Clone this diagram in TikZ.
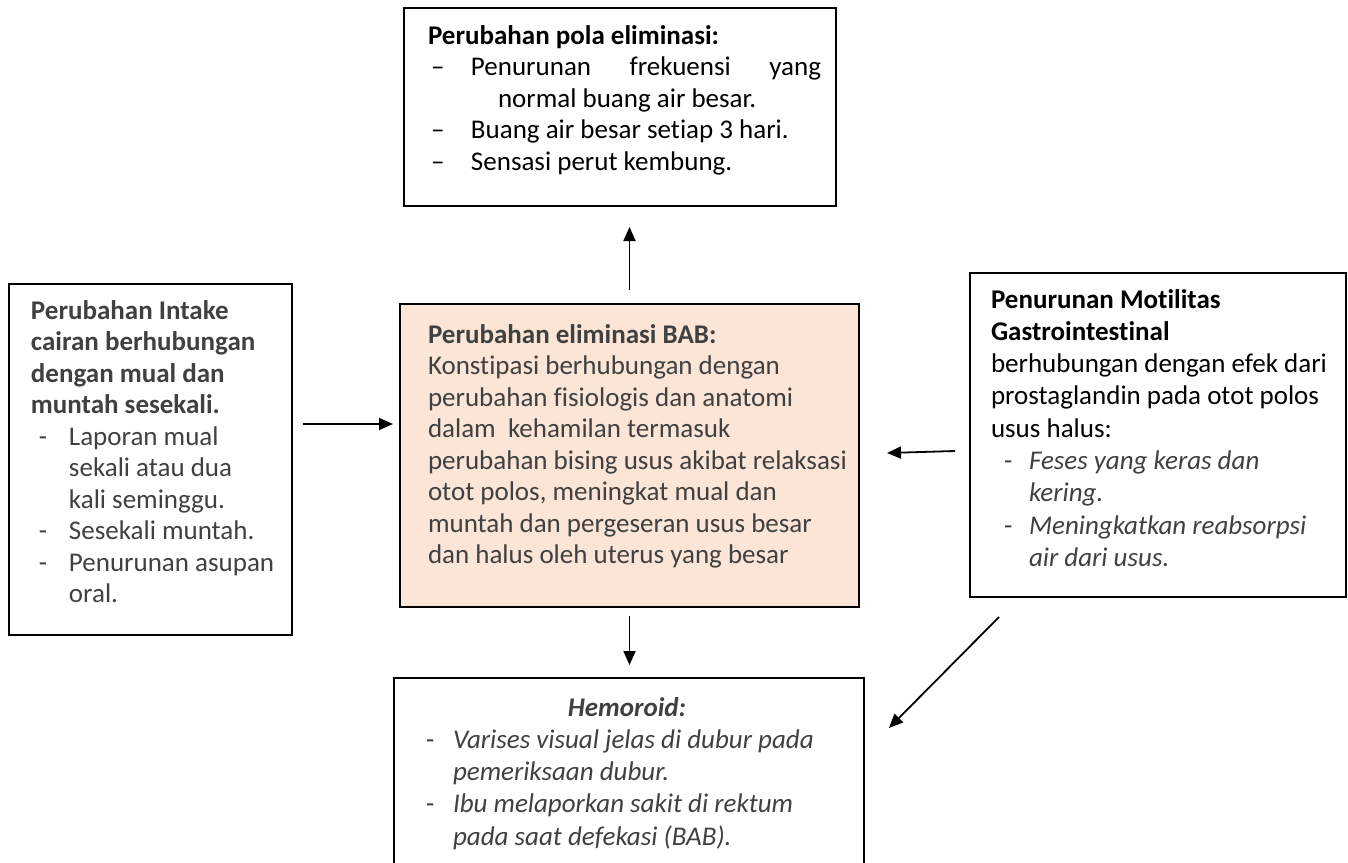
\documentclass[tikz,border=0pt]{standalone}
\usepackage{fontspec}
\setmainfont{Carlito}[Ligatures=CommonOff]
\usetikzlibrary{arrows.meta}
\definecolor{txtgray}{HTML}{404040}
\definecolor{peach}{HTML}{FBE5D6}
\newcommand{\boxbody}[5]{\parbox[t][#2][t]{#1}{\raggedright\leftskip=#4\relax\vspace*{#3}\strut#5}}
\newcommand{\lstitem}[3]{\hspace*{#1}\makebox[#2][l]{#3}}

\begin{document}
\begin{tikzpicture}[x=0.5pt, y=-0.5pt,
        box/.style={draw, line width=1pt, anchor=north west, inner sep=0pt},
        txt/.style={font=\fontsize{13.5pt}{15.75pt}\selectfont},
        loose/.style={font=\fontsize{13.5pt}{16.15pt}\selectfont},
        arr/.style={-{Triangle[length=7pt,width=6pt]}, line width=0.9pt},
    ]
    \useasboundingbox (0,0) rectangle (1348,862);
    \clip (0,0) rectangle (1348,862);
    \node[box, txt] (pola) at (403,7) {\boxbody{216pt}{99pt}{7pt}{12pt}{%
        \textbf{Perubahan pola eliminasi:}\\
        \lstitem{1.5pt}{20pt}{--}\makebox[175pt][s]{Penurunan frekuensi yang}\\
        \hspace*{35pt}normal buang air besar.\\
        \lstitem{1.5pt}{20pt}{--}Buang air besar setiap 3 hari.\\
        \lstitem{1.5pt}{20pt}{--}Sensasi perut kembung.}};
    \node[box, txt, text=txtgray] (intake) at (8,283) {\boxbody{141.5pt}{175.5pt}{6.5pt}{11pt}{%
        \textbf{Perubahan Intake}\\
        \textbf{cairan berhubungan}\\
        \textbf{dengan mual dan}\\
        \textbf{muntah sesekali.}\\
        \lstitem{4pt}{15pt}{-}Laporan mual\\
        \hspace*{19pt}sekali atau dua\\
        \hspace*{19pt}kali seminggu.\\
        \lstitem{4pt}{15pt}{-}Sesekali muntah.\\
        \lstitem{4pt}{15pt}{-}Penurunan asupan\\
        \hspace*{19pt}oral.}};
    \node[box, txt, text=txtgray, fill=peach] (elim) at (399,303) {\boxbody{229.5pt}{151.5pt}{8.5pt}{14pt}{%
        \textbf{Perubahan eliminasi BAB:}\\
        Konstipasi berhubungan dengan\\
        perubahan fisiologis dan anatomi\\
        dalam\ \ kehamilan termasuk\\
        perubahan bising usus akibat relaksasi\\
        otot polos, meningkat mual dan\\
        muntah dan pergeseran usus besar\\
        dan halus oleh uterus yang besar}};
    \node[box, loose] (motil) at (969,272) {\boxbody{188pt}{162pt}{6.2pt}{10.5pt}{%
        \textbf{Penurunan Motilitas}\\
        \textbf{Gastrointestinal}\\
        berhubungan dengan efek dari\\
        prostaglandin pada otot polos\\
        usus halus:\\
        {\color{txtgray}\lstitem{6.5pt}{12.5pt}{-}\textit{Feses yang keras dan}}\\
        {\color{txtgray}\hspace*{19pt}\textit{kering.}}\\
        {\color{txtgray}\lstitem{6.5pt}{12.5pt}{-}\textit{Meningkatkan reabsorpsi}}\\
        {\color{txtgray}\hspace*{19pt}\textit{air dari usus.}}}};
    \node[box, loose, text=txtgray] (hemo) at (393,677) {\boxbody{235pt}{100pt}{7.7pt}{16pt}{%
        \hspace*{-16pt}\makebox[233pt][c]{\textbf{\textit{Hemoroid:}}}\\
        \lstitem{0pt}{13.5pt}{-}\textit{Varises visual jelas di dubur pada}\\
        \hspace*{13.5pt}\textit{pemeriksaan dubur.}\\
        \lstitem{0pt}{13.5pt}{-}\textit{Ibu melaporkan sakit di rektum}\\
        \hspace*{13.5pt}\textit{pada saat defekasi (BAB).}}};
    \draw[arr, shorten <=6.5pt, shorten >=10pt] (elim.north) -- (elim.north |- pola.south);
    \draw[arr] ([xshift=5pt, yshift=17.75pt]intake.east) -- ([xshift=-3pt, yshift=15.75pt]elim.west);
    \draw[arr] ([xshift=-7pt, yshift=-8pt]motil.west) -- ([xshift=13.5pt, yshift=1.25pt]elim.east);
    \draw[arr, shorten <=4pt, shorten >=6pt] (elim.south) -- (elim.south |- hemo.north);
    \draw[arr] ([xshift=15pt, yshift=-9.5pt]motil.south west) -- ([xshift=12pt, yshift=-25.5pt]hemo.north east);
\end{tikzpicture}
\end{document}
